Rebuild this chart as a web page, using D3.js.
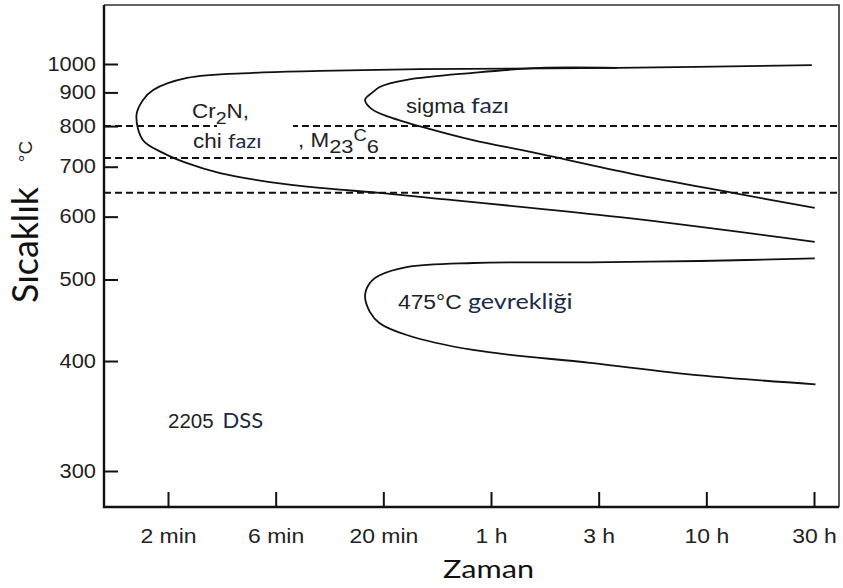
<!DOCTYPE html>
<html>
<head>
<meta charset="utf-8">
<script src="https://cdn.jsdelivr.net/npm/d3@7"></script>
<style>
  body { margin: 0; background: #fff; }
</style>
</head>
<body>
<div id="chart"></div>
<script>
// time axis (minutes) and its labels
const timeTicks = [2, 6, 20, 60, 180, 600, 1800];
const timeLabels = ["2 min", "6 min", "20 min", "1 h", "3 h", "10 h", "30 h"];
// temperature axis (°C)
const tempTicks = [300, 400, 500, 600, 700, 800, 900, 1000];
const dashedTemps = [800, 720, 645];

// C-curves as [minutes, °C], upper branch -> nose -> lower branch
const carbideCurve = [
  [1761, 996], [221, 985], [29.1, 981], [9.84, 974], [4.76, 967], [2.43, 949],
  [1.72, 908], [1.55, 876], [1.45, 831], [1.55, 763], [1.90, 732], [2.43, 708],
  [3.40, 686], [5.66, 667], [9.84, 655], [19.2, 645], [29.1, 637], [228, 599], [1814, 557]
];
const sigmaCurve = [
  [221, 985], [98.8, 985], [49.9, 967], [25.4, 942], [19.2, 918], [17.8, 901],
  [16.3, 876], [17.8, 846], [21.4, 825], [30.0, 797],
  [49.9, 763], [92, 733], [264, 684], [786, 645], [1814, 616]
];
const embrittleCurve = [
  [1814, 531], [559, 527], [165, 525], [49.9, 524], [25.4, 518], [19.2, 506],
  [17.2, 495], [16.3, 478], [17.2, 457], [19.2, 443],
  [25.4, 429], [49.9, 412], [165, 398], [559, 385], [1828, 376]
];

const W = 843, H = 588;
const frame = { left: 104, right: 839, top: 5, bottom: 507 };
const K = 273;

const svg = d3.select("#chart")
  .append("svg")
  .attr("width", W)
  .attr("height", H);

// evenly spaced ticks -> piecewise log scale
const x = d3.scaleLog()
  .domain(timeTicks)
  .range(timeTicks.map((d, i) => 168 + i * (814 - 168) / (timeTicks.length - 1)));

// temperature scale is linear in 1/T (Kelvin)
const y = d3.scalePow().exponent(-1)
  .domain([1000 + K, 300 + K])
  .range([64, 471]);

// dashed temperature lines
svg.append("g")
  .selectAll("line")
  .data(dashedTemps)
  .join("line")
  .attr("x1", frame.left)
  .attr("x2", frame.right)
  .attr("y1", d => y(d + K))
  .attr("y2", d => y(d + K))
  .attr("stroke", "#111")
  .attr("stroke-width", 2)
  .attr("stroke-dasharray", "7,4");

// white patch from pasted label
svg.append("rect")
  .attr("x", 217).attr("y", 124).attr("width", 76).attr("height", 9)
  .attr("fill", "#fff");

// curves
const line = d3.line()
  .x(d => x(d[0]))
  .y(d => y(d[1] + K))
  .curve(d3.curveCatmullRom.alpha(0.5));

svg.append("g")
  .selectAll("path")
  .data([carbideCurve, sigmaCurve, embrittleCurve])
  .join("path")
  .attr("d", line)
  .attr("fill", "none")
  .attr("stroke", "#111")
  .attr("stroke-width", 1.8);

// axes
const sxTick = 1.12;
const xAxis = svg.append("g")
  .attr("transform", `translate(0,${frame.bottom})`)
  .call(d3.axisBottom(x)
    .tickValues(timeTicks)
    .tickFormat((d, i) => timeLabels[i])
    .tickSizeInner(-15)
    .tickSizeOuter(0)
    .tickPadding(21));

const yAxis = svg.append("g")
  .attr("transform", `translate(${frame.left},0)`)
  .call(d3.axisLeft(y)
    .tickValues(tempTicks.map(d => d + K))
    .tickFormat(d => d - K)
    .tickSizeInner(-14)
    .tickSizeOuter(0)
    .tickPadding(8));

[xAxis, yAxis].forEach(a => {
  a.select(".domain").remove();
  a.selectAll(".tick line").attr("stroke", "#111").attr("stroke-width", 2);
  a.selectAll(".tick text")
    .attr("font-family", "Liberation Sans")
    .attr("fill", "#222");
});
xAxis.selectAll(".tick text")
  .attr("font-size", 20.5)
  .attr("transform", `scale(${sxTick},1)`);
yAxis.selectAll(".tick text")
  .attr("font-size", 19.5)
  .attr("x", -8 / sxTick)
  .attr("transform", `scale(${sxTick},1)`);

// frame
svg.append("path")
  .attr("d", `M${frame.left},${frame.top}H${frame.right}V${frame.bottom}`)
  .attr("fill", "none").attr("stroke", "#333").attr("stroke-width", 1.6);
svg.append("path")
  .attr("d", `M${frame.left},${frame.top}V${frame.bottom}H${frame.right}`)
  .attr("fill", "none").attr("stroke", "#111").attr("stroke-width", 2.4);

// annotations
const notes = [
  { x: 192, y: 118, sx: 1.15, parts: [
    { t: "Cr" }, { t: "2", size: 17, dy: 6 }, { t: "N,", dy: -6 }] },
  { x: 193, y: 148, sx: 1.15, parts: [
    { t: "chi " }, { t: "fazı", cal: true, size: 19 }] },
  { x: 298, y: 147, sx: 1.15, parts: [
    { t: ", M" }, { t: "23", size: 19, dy: 6 }, { t: "C", size: 16, dy: -12 }, { t: "6", size: 19, dy: 12 }] },
  { x: 406, y: 113, sx: 1.13, parts: [
    { t: "sigma " }, { t: "fazı", cal: true, size: 22 }] },
  { x: 398, y: 309, sx: 1.17, parts: [
    { t: "475°C " }, { t: "gevrekliği", cal: true, size: 21.5 }] },
  { x: 168, y: 428, sx: 1.0, parts: [
    { t: "2205", size: 20.5 }, { t: "DSS", cal: true, size: 22, dx: 9 }] }
];

notes.forEach(n => {
  const t = svg.append("text")
    .attr("transform", `translate(${n.x},${n.y}) scale(${n.sx},1)`);
  n.parts.forEach(p => {
    t.append("tspan")
      .text(p.t)
      .attr("font-family", p.cal ? "Lato" : "Liberation Sans")
      .attr("font-size", p.size || 19.5)
      .attr("dy", p.dy || 0)
      .attr("dx", p.dx || 0)
      .attr("fill", p.cal ? "#1d2a48" : "#222");
  });
});

// axis titles
svg.append("text")
  .attr("x", 488.5).attr("y", 578)
  .attr("text-anchor", "middle")
  .attr("font-family", "Lato")
  .attr("font-size", 25)
  .attr("textLength", 91)
  .attr("lengthAdjust", "spacingAndGlyphs")
  .attr("fill", "#111")
  .text("Zaman");

svg.append("text")
  .attr("transform", "translate(38,245) rotate(-90)")
  .attr("text-anchor", "middle")
  .attr("font-family", "Lato")
  .attr("font-size", 36)
  .attr("textLength", 116)
  .attr("lengthAdjust", "spacingAndGlyphs")
  .attr("fill", "#111")
  .text("Sıcaklık");

svg.append("text")
  .attr("transform", "translate(32,151.5) rotate(-90)")
  .attr("text-anchor", "middle")
  .attr("font-family", "Liberation Sans")
  .attr("font-size", 19)
  .attr("fill", "#222")
  .text("°C");
</script>
</body>
</html>
